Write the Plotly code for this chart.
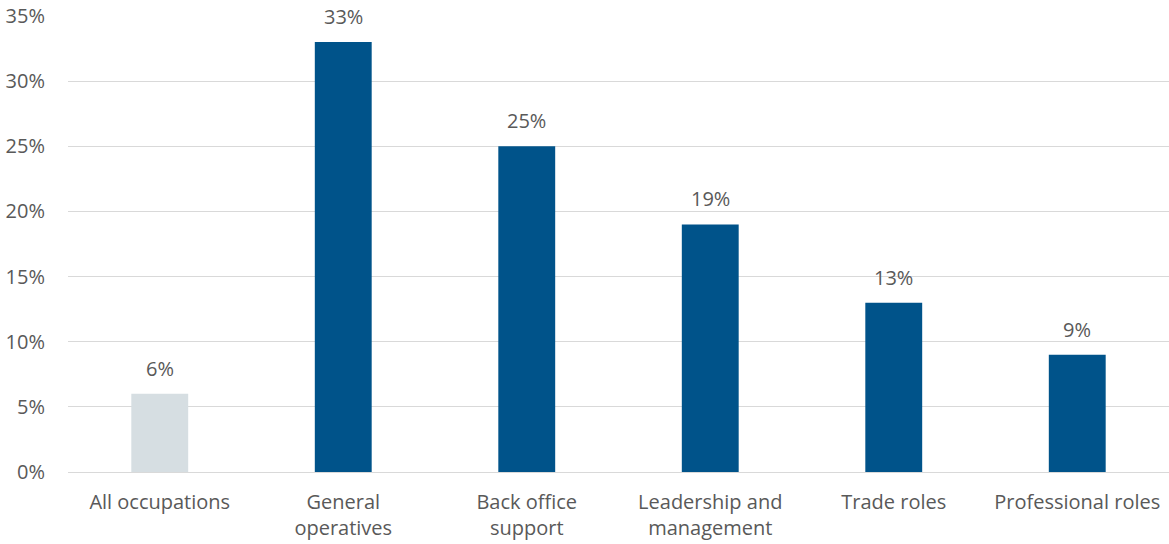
import plotly.graph_objects as go

# Share of workers by occupation group (%)
categories = ["All occupations", "General<br>operatives", "Back office<br>support",
              "Leadership and<br>management", "Trade roles", "Professional roles"]
values = [6, 33, 25, 19, 13, 9]
bar_colors = ["#D6DEE2", "#00538A", "#00538A", "#00538A", "#00538A", "#00538A"]
y_ticks = [0, 5, 10, 15, 20, 25, 30, 35]
y_tick_labels = [f"{v}%" for v in y_ticks]

FONT = "Open Sans, Noto Sans, sans-serif"
TEXT = "#595959"

fig = go.Figure(
    go.Bar(
        x=categories,
        y=values,
        marker=dict(color=bar_colors, line=dict(width=0)),
        width=0.31,
        hoverinfo="skip",
    )
)

# value labels above each bar
for c, v in zip(categories, values):
    fig.add_annotation(
        x=c, y=v, text=f"{v}%", showarrow=False,
        yanchor="bottom", yshift=10,
        font=dict(family=FONT, size=20, color=TEXT),
    )

fig.update_layout(
    width=1169, height=544,
    margin=dict(l=68, r=0, t=16, b=72),
    plot_bgcolor="white", paper_bgcolor="white",
    showlegend=False,
    font=dict(family=FONT, size=20, color=TEXT),
)
fig.update_xaxes(
    showgrid=False, showline=False, ticks="",
    tickfont=dict(family=FONT, size=20, color=TEXT),
    ticklabelstandoff=16,
)
fig.update_yaxes(
    range=[0, 35], tickvals=y_ticks, ticktext=y_tick_labels,
    showgrid=True, gridcolor="#D9D9D9", gridwidth=1,
    zeroline=True, zerolinecolor="#D9D9D9", zerolinewidth=1,
    showline=False, ticks="",
    tickfont=dict(family=FONT, size=20, color=TEXT),
    ticklabelstandoff=22,
)

fig.write_html("out.html")
